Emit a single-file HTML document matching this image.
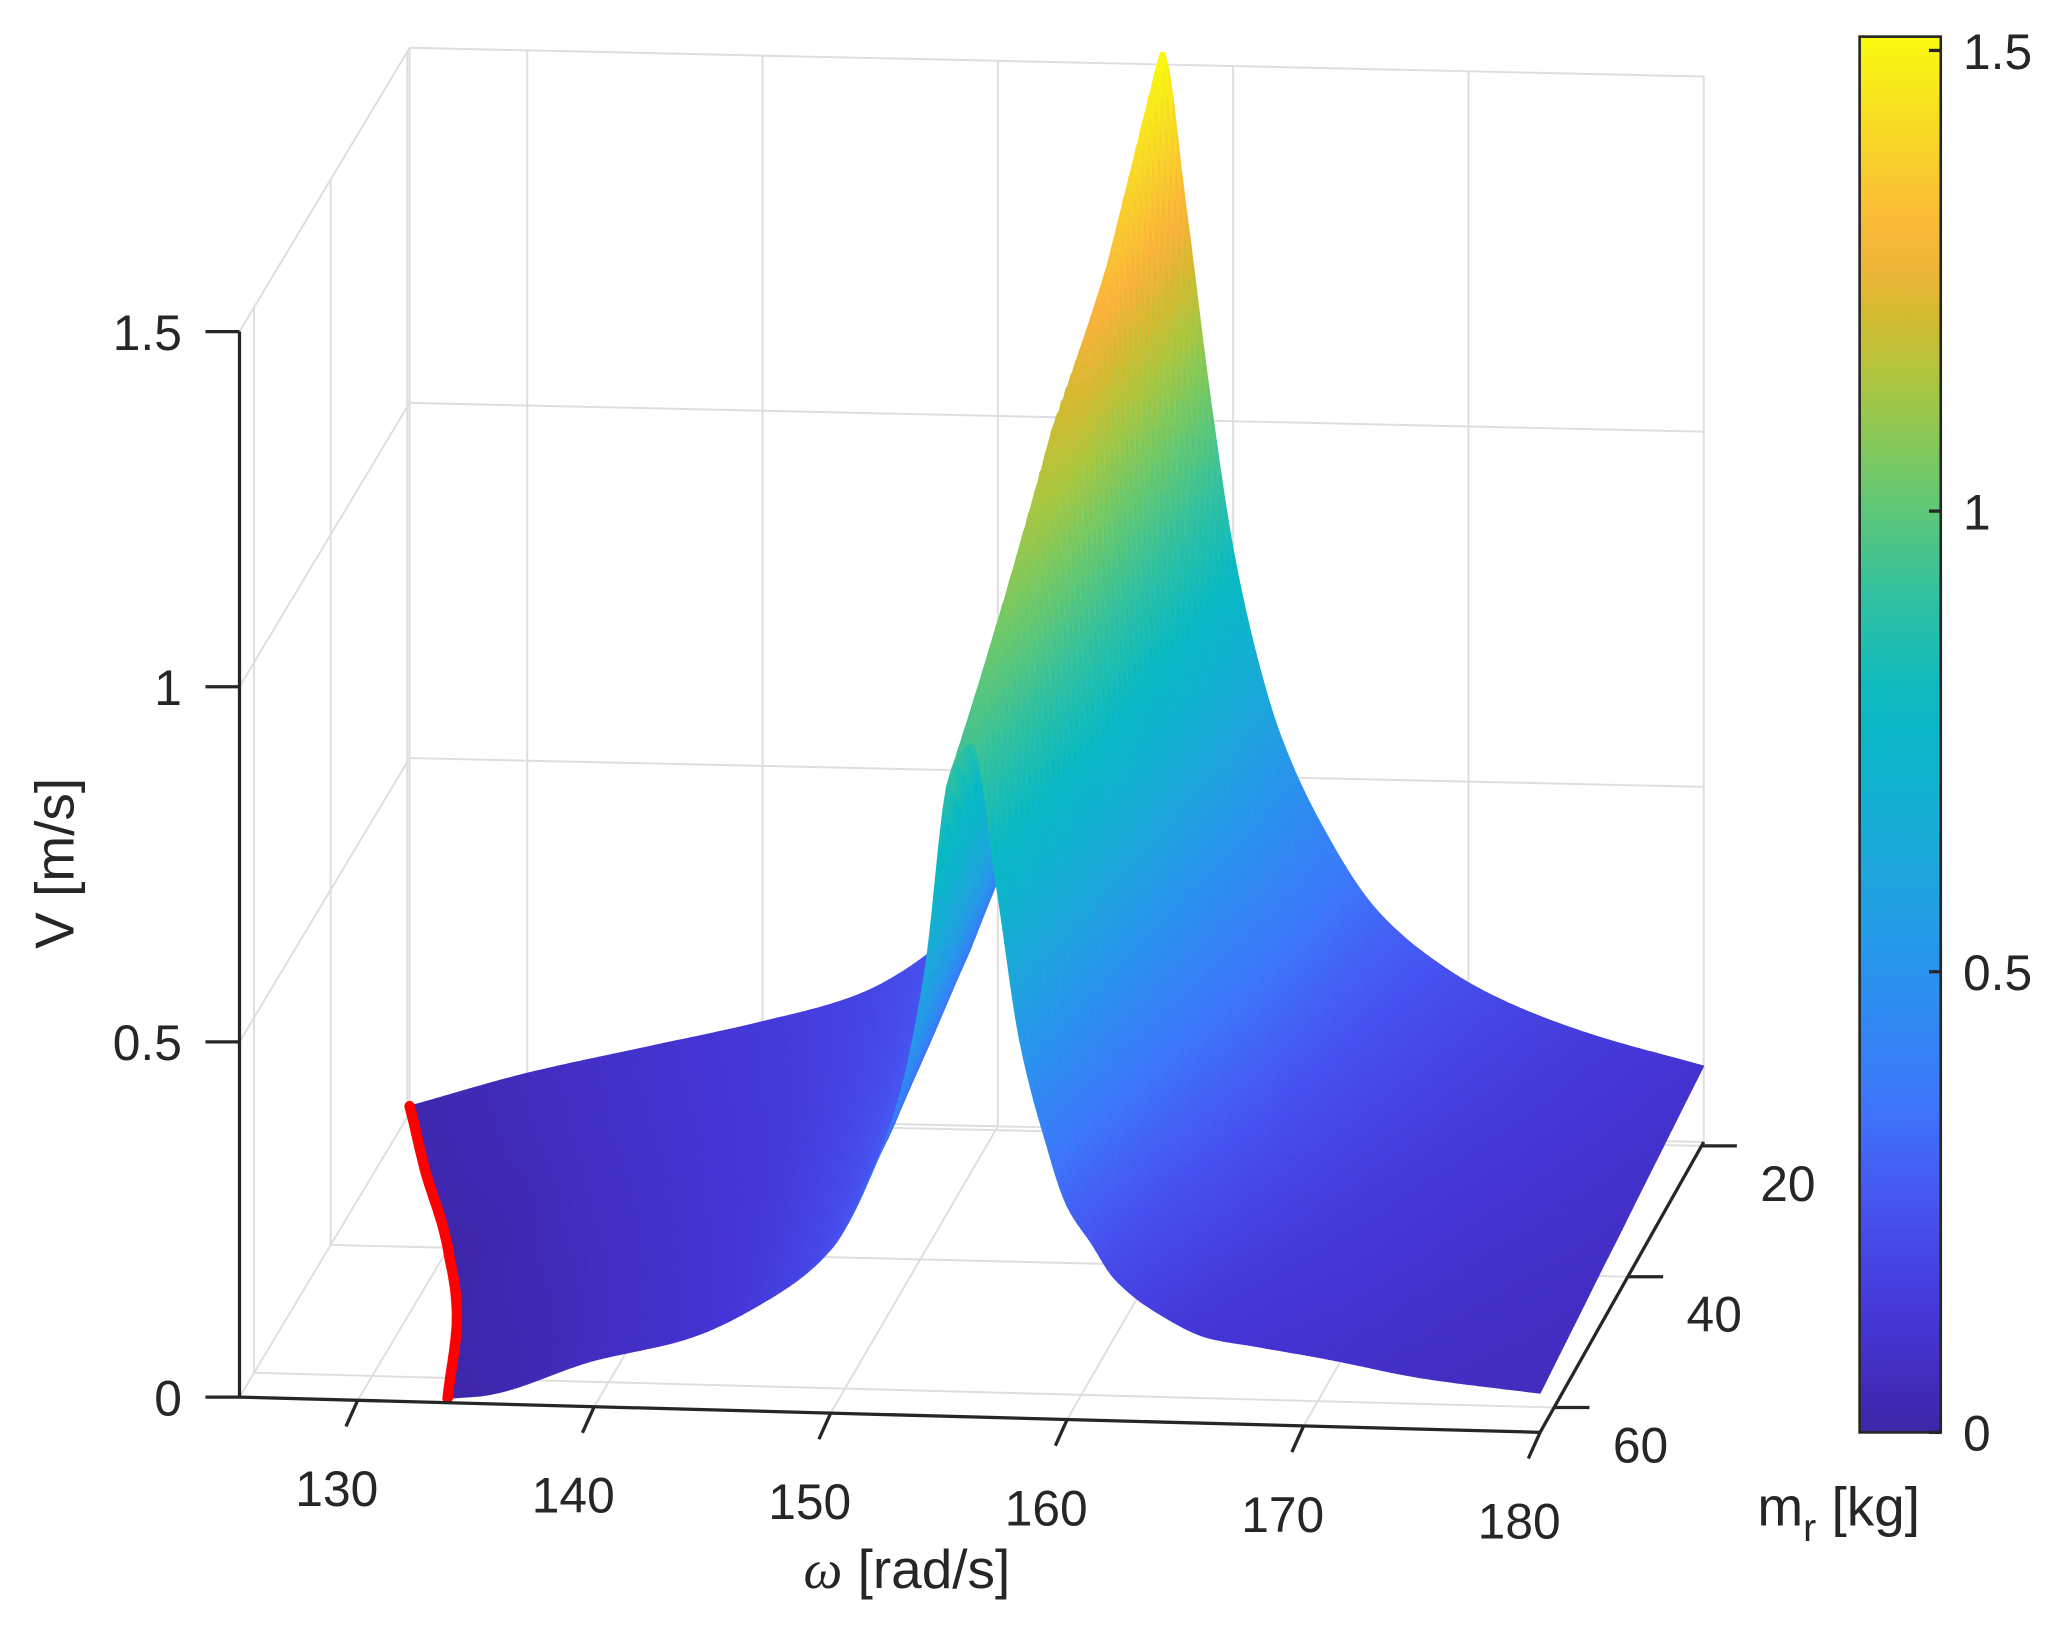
<!DOCTYPE html>
<html><head><meta charset="utf-8"><title>V surface</title>
<style>html,body{margin:0;padding:0;background:#fff;}svg{display:block;}text{font-family:"Liberation Sans",Arial,sans-serif;fill:#262626;}</style>
</head><body>
<svg id="chart" xmlns="http://www.w3.org/2000/svg" width="2052" height="1626" viewBox="0 0 1568 1243" preserveAspectRatio="none">
<g id="grid"></g>
<g id="surf"></g>
<g id="axes"></g>
<g id="cbar"></g>
<text x="0" y="0" font-size="42" text-anchor="middle" transform="translate(56,660) rotate(-90)">V [m/s]</text>
<text x="693" y="1214" font-size="42" text-anchor="middle"><tspan font-style="italic" font-family="Liberation Serif, serif">ω</tspan> [rad/s]</text>
<text x="1405" y="1166" font-size="42" text-anchor="middle">m<tspan font-size="30" dy="12">r</tspan><tspan dy="-12"> [kg]</tspan></text>
</svg>
<script>
const omega=[125,130,135,140,144,147,150,152,153,154,155,156,157,158,159,160,161,162,164,166,168,171,175,180];
const mRows=[19.4,30.5,41.6,52.7,63.8];
const omegaStart=[125,127.5,130.3,132.4,133.8];
const peakOmega=[157,156.7,156.4,156,155.7];
const vRow0=[0.01,0.06,0.10,0.14,0.18,0.24,0.35,0.55,0.68,0.85,1.05,1.32,1.52,1.30,1.04,0.82,0.67,0.56,0.42,0.32,0.26,0.20,0.15,0.107];
const vRow1=[0,0.035,0.08,0.12,0.16,0.21,0.31,0.49,0.62,0.79,1.00,1.26,1.36,1.12,0.88,0.70,0.57,0.48,0.36,0.27,0.22,0.17,0.13,0.094];
const vRow2=[0,0,0.055,0.10,0.14,0.19,0.28,0.44,0.56,0.73,0.97,1.20,1.18,0.95,0.73,0.57,0.46,0.38,0.29,0.22,0.18,0.14,0.11,0.081];
const vRow3=[0,0,0.03,0.08,0.12,0.17,0.25,0.40,0.51,0.68,0.95,1.08,0.97,0.74,0.56,0.43,0.35,0.29,0.22,0.17,0.14,0.12,0.09,0.068];
const vRow4=[0,0,0.01,0.065,0.10,0.15,0.23,0.36,0.46,0.63,0.90,0.95,0.75,0.53,0.40,0.30,0.25,0.20,0.15,0.12,0.11,0.095,0.072,0.055];
const omegaTicks=[130,140,150,160,170,180];
const mTicks=[20,40,60];
const zTicks=[0,0.5,1,1.5];
const zTickLabels=["0","0.5","1","1.5"];
const cbTicks=[0,0.5,1,1.5];
const cbTickLabels=["0","0.5","1","1.5"];

const rows=[vRow0,vRow1,vRow2,vRow3,vRow4];
const wLo=125,wHi=180,mLo=19.4,mHi=63.8,zHi=1.5,cMax=1.515;
const NS="http://www.w3.org/2000/svg";
function P(w,m,v){const f=(m-mLo)/(mHi-mLo);const d=w-wLo;return [313-130*f+(17.98+0.09*f)*d, 851+217*f+(0.40+0.09*f)*d-543*v];}
function mk(tag,attrs,parent){const e=document.createElementNS(NS,tag);for(const k in attrs)e.setAttribute(k,attrs[k]);parent.appendChild(e);return e;}
// monotone cubic (Fritsch-Carlson) interpolant
function mono(xs,ys){const n=xs.length,d=[],m=new Array(n);
  for(let i=0;i<n-1;i++)d.push((ys[i+1]-ys[i])/(xs[i+1]-xs[i]));
  m[0]=d[0];m[n-1]=d[n-2];
  for(let i=1;i<n-1;i++){if(d[i-1]*d[i]<=0)m[i]=0;else{const h0=xs[i]-xs[i-1],h1=xs[i+1]-xs[i];m[i]=3*(h0+h1)/((2*h1+h0)/d[i-1]+(h1+2*h0)/d[i]);}}
  return function(x){if(x<=xs[0])return ys[0];if(x>=xs[n-1])return ys[n-1];let i=0;while(x>xs[i+1])i++;
    const h=xs[i+1]-xs[i],t=(x-xs[i])/h,t2=t*t,t3=t2*t;
    return (2*t3-3*t2+1)*ys[i]+(t3-2*t2+t)*h*m[i]+(-2*t3+3*t2)*ys[i+1]+(t3-t2)*h*m[i+1];};}
const rowF=rows.map(r=>mono(omega,r));
const startF=mono(mRows,omegaStart);
const peakF=mono(mRows,peakOmega);
function rowPos(m){for(let i=0;i<mRows.length-1;i++){if(m<=mRows[i+1]||i==mRows.length-2){return [i,(m-mRows[i])/(mRows[i+1]-mRows[i])];}}}
function V(w,m){const [i,t]=rowPos(m);const pk=peakF(m);
  const a=Math.max(0,rowF[i](w-pk+peakOmega[i])),b=Math.max(0,rowF[i+1](w-pk+peakOmega[i+1]));
  return a*(1-t)+b*t;}
function startW(m){return startF(m);}
const cmap=[[0,0x3e,0x26,0xa8],[0.08,0x45,0x35,0xd6],[0.16,0x47,0x52,0xf0],[0.24,0x3d,0x78,0xfb],[0.32,0x2b,0x90,0xef],[0.40,0x1e,0xa6,0xdd],[0.48,0x0d,0xb4,0xcb],[0.52,0x08,0xb9,0xc4],[0.60,0x32,0xc1,0xa0],[0.68,0x6c,0xc9,0x6b],[0.75,0xaa,0xc7,0x40],[0.80,0xd3,0xba,0x30],[0.85,0xfb,0xb2,0x3c],[0.92,0xf8,0xd3,0x2a],[1,0xf9,0xfb,0x0e]];
function col(v){let t=Math.max(0,Math.min(1,v/cMax));for(let i=0;i<cmap.length-1;i++){const a=cmap[i],b=cmap[i+1];if(t<=b[0]){const s=(t-a[0])/(b[0]-a[0]);return `rgb(${Math.round(a[1]+(b[1]-a[1])*s)},${Math.round(a[2]+(b[2]-a[2])*s)},${Math.round(a[3]+(b[3]-a[3])*s)})`;}}return "rgb(249,251,14)";}
function line(g,p,q,st,sw,name){const e=mk('line',{x1:p[0],y1:p[1],x2:q[0],y2:q[1],stroke:st,'stroke-width':sw},g);return e;}

// grid
const grid=document.getElementById('grid');const gc="#dedede";
for(const z of zTicks){line(grid,P(wLo,mLo,z),P(wHi,mLo,z),gc,1.5,'back-wall-gridline');line(grid,P(wLo,mLo,z),P(wLo,mHi,z),gc,1.5,'side-wall-gridline');}
for(const w of omegaTicks){line(grid,P(w,mLo,0),P(w,mLo,zHi),gc,1.5,'back-wall-gridline');line(grid,P(w,mLo,0),P(w,mHi,0),gc,1.5,'floor-gridline');}
line(grid,P(wLo,mLo,0),P(wLo,mLo,zHi),gc,1.5,'box-edge');
for(const m of mTicks){line(grid,P(wLo,m,0),P(wLo,m,zHi),gc,1.5,'side-wall-gridline');line(grid,P(wLo,m,0),P(wHi,m,0),gc,1.5,'floor-gridline');}

// surface
const surf=document.getElementById('surf');
const NF=48,NU=300;
for(let j=0;j<NF;j++){
  const m0=mLo+(mHi-mLo)*j/NF,m1=mLo+(mHi-mLo)*(j+1)/NF;
  const s0=startW(m0),s1=startW(m1);
  for(let k=0;k<NU;k++){
    const u0=k/NU,u1=(k+1)/NU;
    const wa=s0+(wHi-s0)*u0,wb=s0+(wHi-s0)*u1,wc=s1+(wHi-s1)*u1,wd=s1+(wHi-s1)*u0;
    const va=V(wa,m0),vb=V(wb,m0),vc=V(wc,m1),vd=V(wd,m1);
    const a=P(wa,m0,va),b=P(wb,m0,vb),c=P(wc,m1,vc),d=P(wd,m1,vd);
    const cl=col((va+vb+vc+vd)/4);
    const p=mk('path',{d:`M${a[0].toFixed(1)} ${a[1].toFixed(1)}L${b[0].toFixed(1)} ${b[1].toFixed(1)}L${c[0].toFixed(1)} ${c[1].toFixed(1)}L${d[0].toFixed(1)} ${d[1].toFixed(1)}Z`,fill:cl,stroke:cl,'stroke-width':0.7},surf);
    
    
  }
}
// red boundary curve
let rd='';for(let i=0;i<=60;i++){const m=mLo+(mHi-mLo)*i/60;const w=startW(m);const q=P(w,m,V(w,m));rd+=(i?'L':'M')+q[0].toFixed(1)+' '+q[1].toFixed(1);}
const red=mk('path',{d:rd,fill:'none',stroke:'#ff0000','stroke-width':8,'stroke-linecap':'round','stroke-linejoin':'round'},surf);



// axes
const ax=document.getElementById('axes');const ac="#262626";
line(ax,P(wLo,mHi,0),P(wLo,mHi,zHi),ac,2.5,'z-axis-line');
line(ax,P(wLo,mHi,0),P(wHi,mHi,0),ac,2.5,'x-axis-line');
line(ax,P(wHi,mLo,0),P(wHi,mHi,0),ac,2.5,'y-axis-line');
zTicks.forEach((z,i)=>{const p=P(wLo,mHi,z);line(ax,[p[0]-26,p[1]],p,ac,2.5,'z-tick');
  const t=mk('text',{x:p[0]-44,y:p[1]+14,'font-size':38,'text-anchor':'end'},ax);t.textContent=zTickLabels[i];
  
  });
omegaTicks.forEach(w=>{const p=P(w,mHi,0);line(ax,p,[p[0]-9,p[1]+20],ac,2.5,'x-tick');
  const t=mk('text',{x:p[0]-16,y:p[1]+81,'font-size':38,'text-anchor':'middle'},ax);t.textContent=String(w);
  
  });
mTicks.forEach(m=>{const p=P(wHi,m,0);line(ax,p,[p[0]+27,p[1]],ac,2.5,'y-tick');
  const t=mk('text',{x:p[0]+66,y:p[1]+42,'font-size':38,'text-anchor':'middle'},ax);t.textContent=String(m);
  
  });

// colorbar
const cb=document.getElementById('cbar');
const cbX=1421,cbW=62,cbTop=28,cbBot=1095;
const defs=mk('defs',{},cb);const lg=mk('linearGradient',{id:'pg',x1:0,y1:1,x2:0,y2:0},defs);
for(let i=0;i<=30;i++){const v=cMax*i/30;mk('stop',{offset:(i/30),'stop-color':col(v)},lg);}
const r=mk('rect',{x:cbX,y:cbTop,width:cbW,height:cbBot-cbTop,fill:'url(#pg)',stroke:ac,'stroke-width':2},cb);


cbTicks.forEach((v,i)=>{const y=cbBot-(cbBot-cbTop)*v/cMax;line(cb,[cbX+cbW-9,y],[cbX+cbW,y],ac,2.5,'colorbar-tick');
  const t=mk('text',{x:cbX+cbW+17,y:y+14,'font-size':38},cb);t.textContent=cbTickLabels[i];
  
  });
</script>
</body></html>
